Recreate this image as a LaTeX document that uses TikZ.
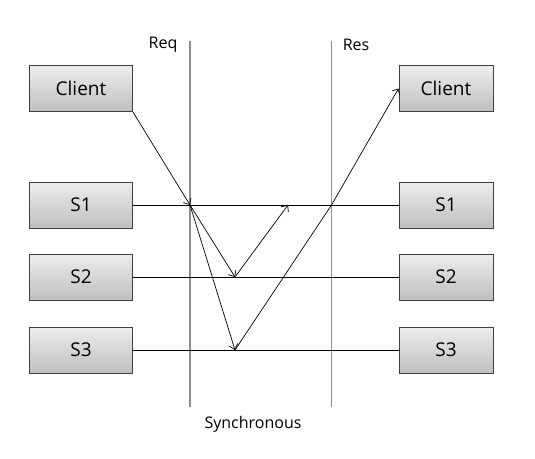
\documentclass[tikz,border=0pt]{standalone}
\usepackage{fontspec}
\setmainfont{Open Sans}
\usetikzlibrary{arrows.meta}
\begin{document}
\begin{tikzpicture}[x=1pt,y=1pt,
  box/.style={draw=black!75, line width=0.9pt, top color=black!7, bottom color=black!25,
    minimum height=46pt, inner sep=0pt, font=\fontsize{19}{22}\selectfont},
  lbox/.style={box, minimum width=103pt},
  rbox/.style={box, minimum width=94pt},
  vline/.style={draw=black!45, line width=1.2pt},
  conn/.style={draw=black, line width=0.7pt},
  arr/.style={conn, -{Straight Barb[length=5pt,width=9pt]}},
  lab/.style={font=\fontsize{16}{19}\selectfont, inner sep=0pt}]
\useasboundingbox (0,0) rectangle (535,-458);
% vertical lines
\coordinate (reqtop) at (190,-41);
\coordinate (reqbot) at (190,-407);
\coordinate (restop) at (331.5,-41);
\coordinate (resbot) at (331.5,-407);
\draw[vline] (reqtop) -- (reqbot);
\draw[vline] (restop) -- (resbot);
\node[lab] (req) at (163,-45) {Req};
\node[lab] (res) at (356,-45) {Res};
\node[lab] (sync) at (253,-424) {Synchronous};
% boxes
\node[lbox] (cl) at (81,-88.5) {Client};
\node[lbox] (s1l) at (81,-205) {S1};
\node[lbox] (s2l) at (81,-277) {S2};
\node[lbox] (s3l) at (81,-350) {S3};
\node[rbox] (cr) at (446,-88.5) {Client};
\node[rbox] (s1r) at (446,-205) {S1};
\node[rbox] (s2r) at (446,-277) {S2};
\node[rbox] (s3r) at (446,-350) {S3};
% horizontal lines
\draw[conn] (s1l.east) -- (s1r.west);
\draw[conn] (s2l.east) -- (s2r.west);
\draw[conn] (s3l.east) -- (s3r.west);
% points
\coordinate (p1) at (190,-205);
\coordinate (p2) at (235,-277);
\coordinate (p3) at (235,-350);
\coordinate (p4) at (288,-205);
\coordinate (p5) at (331.5,-205);
% arrows
\draw[arr] (cl.south east) -- (p1);
\draw[arr] (p1) -- (p2);
\draw[arr] (p1) -- (p3);
\draw[arr] (p2) -- (p4);
\draw[conn] (p3) -- (p5);
\draw[arr] (p5) -- (cr.west);
\end{tikzpicture}
\end{document}
